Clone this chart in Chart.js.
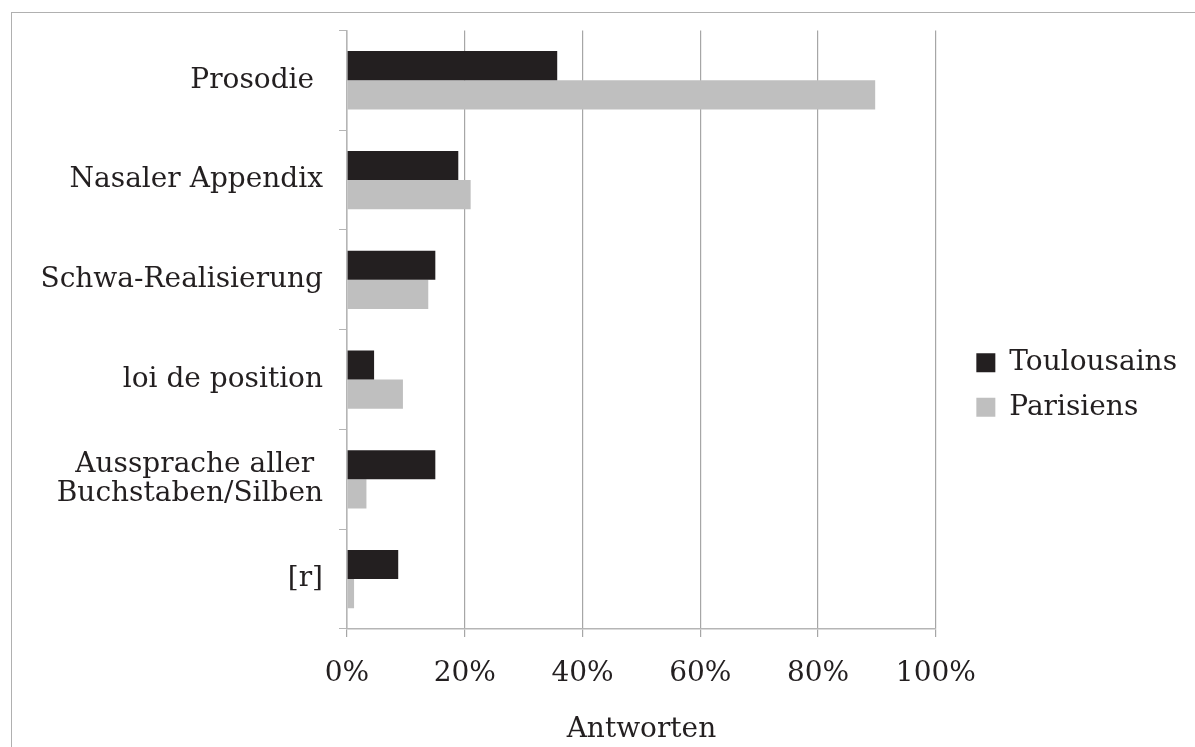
<!DOCTYPE html>
<html>
<head>
<meta charset="utf-8">
<script src="https://cdn.jsdelivr.net/npm/chart.js@4/dist/chart.umd.min.js"></script>
<style>
  html, body { margin: 0; padding: 0; background: #fff; overflow: hidden; }
  #frame { position: absolute; left: 11px; top: 12px; width: 1200px; height: 750px; border: 1.5px solid #b0b0b0; pointer-events: none; }
  canvas { position: absolute; left: 0; top: 0; }
</style>
</head>
<body>
<canvas id="answersChart" width="1195" height="747"></canvas>
<div id="frame"></div>
<script>
// categories (trailing spaces as in the original labels)
const categories = [
  'Prosodie ',
  'Nasaler Appendix',
  'Schwa-Realisierung',
  'loi de position',
  ['Aussprache aller ', 'Buchstaben/Silben'],
  '[r]'
];
const toulousains = [35.7, 18.9, 15.0, 4.6, 15.0, 8.7];
const parisiens = [89.7, 21.0, 13.8, 9.5, 3.3, 1.2];
const xTicks = [0, 20, 40, 60, 80, 100];

const textColor = '#231f20';
const gridColor = '#a6a6a6';

// move the legend a bit right of the plot, like the original
const legendShift = {
  id: 'legendShift',
  afterLayout(chart) {
    const l = chart.legend;
    l.left += 24;
    l.right += 24;
    l.top -= 3;
    l.bottom -= 3;
  }
};

function drawChart() {
  const ctx = document.getElementById('answersChart').getContext('2d');
  new Chart(ctx, {
    type: 'bar',
    data: {
      labels: categories,
      datasets: [
        {
          label: 'Toulousains',
          data: toulousains,
          backgroundColor: '#231f20',
          borderWidth: 0,
          categoryPercentage: 0.585,
          barPercentage: 1.0
        },
        {
          label: 'Parisiens',
          data: parisiens,
          backgroundColor: '#bfbfbf',
          borderWidth: 0,
          categoryPercentage: 0.585,
          barPercentage: 1.0
        }
      ]
    },
    options: {
      indexAxis: 'y',
      responsive: false,
      devicePixelRatio: 1,
      animation: false,
      layout: { padding: { top: 29, bottom: 0, left: 0, right: 32 } },
      plugins: {
        tooltip: { enabled: false },
        legend: {
          position: 'right',
          labels: {
            boxWidth: 19,
            boxHeight: 19,
            padding: 16.5,
            color: textColor,
            font: { family: 'DejaVu Serif', size: 28 }
          }
        }
      },
      scales: {
        x: {
          min: 0,
          max: 100,
          afterBuildTicks: s => { s.ticks = xTicks.map(v => ({ value: v })); },
          afterFit: s => { s.height = 118; },
          ticks: {
            callback: v => v + '%',
            color: textColor,
            padding: 20,
            maxRotation: 0,
            font: { family: 'DejaVu Serif', size: 28 }
          },
          grid: { color: gridColor, tickLength: 8, lineWidth: 1.2 },
          border: { color: '#b5b5b5', width: 1.5 },
          title: {
            display: true,
            text: 'Antworten',
            color: textColor,
            padding: { top: 0, bottom: 0 },
            font: { family: 'DejaVu Serif', size: 28 }
          }
        },
        y: {
          afterFit: s => { s.width = 347; },
          ticks: {
            color: textColor,
            padding: 16,
            font: { family: 'DejaVu Serif', size: 28, lineHeight: 1.03 }
          },
          grid: { drawOnChartArea: false, color: '#b5b5b5', tickLength: 8, offset: true },
          border: { color: '#b5b5b5', width: 1.5 }
        }
      }
    },
    plugins: [legendShift]
  });
}

document.addEventListener('DOMContentLoaded', drawChart);
</script>
</body>
</html>
